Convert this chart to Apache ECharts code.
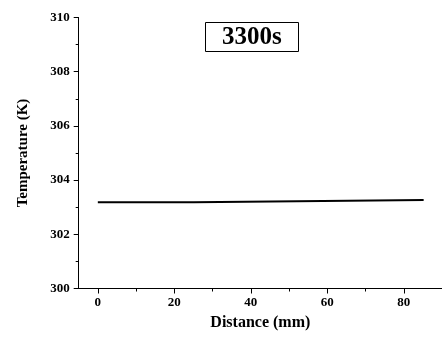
<!DOCTYPE html>
<html>
<head>
<meta charset="utf-8">
<style>
  html, body { margin: 0; padding: 0; background: #fff; }
  #chart { width: 442px; height: 341px; }
</style>
<script src="https://cdn.jsdelivr.net/npm/echarts@6/dist/echarts.min.js"></script>
</head>
<body>
<div id="chart"></div>
<script>
// Temperature profile along the sample at t = 3300 s (piecewise-constant segments)
const distance = [0, 25.1, 58.8, 85.2];
const temperature = [303.18, 303.23, 303.27, 303.27];
const xMajorTicks = [0, 20, 40, 60, 80];
const xMinorTicks = [10, 30, 50, 70, 90];
const timeLabel = '3300s';

const serif = 'Liberation Serif, Times New Roman, serif';
const black = '#000';

const chart = echarts.init(document.getElementById('chart'), null, { renderer: 'canvas' });

const baseX = {
  type: 'value',
  min: -5,
  max: 90,
  position: 'bottom',
  splitLine: { show: false }
};

chart.setOption({
  backgroundColor: '#fff',
  animation: false,
  title: {
    text: timeLabel,
    left: 205,
    top: 22,
    padding: [3, 17, 2, 17],
    borderColor: black,
    borderWidth: 1,
    textStyle: { fontFamily: serif, fontWeight: 'bold', fontSize: 25, lineHeight: 25, color: black }
  },
  grid: { left: 78.7, right: -3.6, top: 17.5, bottom: 52.5, containLabel: false },
  xAxis: [
    Object.assign({}, baseX, {
      name: 'Distance (mm)',
      nameLocation: 'middle',
      nameGap: 20,
      nameTextStyle: { fontFamily: serif, fontWeight: 'bold', fontSize: 16, color: black },
      axisLine: { show: true, onZero: false, lineStyle: { color: black, width: 1 } },
      axisTick: { show: true, inside: false, length: 5, customValues: xMajorTicks, lineStyle: { color: black } },
      axisLabel: { show: true, margin: 8, customValues: xMajorTicks, fontFamily: serif, fontWeight: 'bold', fontSize: 13, color: black }
    }),
    Object.assign({}, baseX, {
      axisLine: { show: false, onZero: false },
      axisTick: { show: true, inside: false, length: 3, customValues: xMinorTicks, lineStyle: { color: black } },
      axisLabel: { show: false }
    })
  ],
  yAxis: {
    type: 'value',
    min: 300,
    max: 310,
    interval: 2,
    name: 'Temperature (K)',
    nameLocation: 'middle',
    nameGap: 48,
    nameTextStyle: { fontFamily: serif, fontWeight: 'bold', fontSize: 15, color: black },
    splitLine: { show: false },
    axisLine: { show: true, onZero: false, lineStyle: { color: black, width: 1 } },
    axisTick: { show: true, inside: false, length: 5, lineStyle: { color: black } },
    minorTick: { show: true, splitNumber: 2, length: 3, lineStyle: { color: black } },
    axisLabel: { margin: 9, fontFamily: serif, fontWeight: 'bold', fontSize: 13, color: black }
  },
  series: [{
    type: 'line',
    xAxisIndex: 0,
    step: 'end',
    data: distance.map((d, i) => [d, temperature[i]]),
    showSymbol: false,
    symbol: 'none',
    lineStyle: { color: black, width: 2 }
  }]
});
</script>
</body>
</html>
